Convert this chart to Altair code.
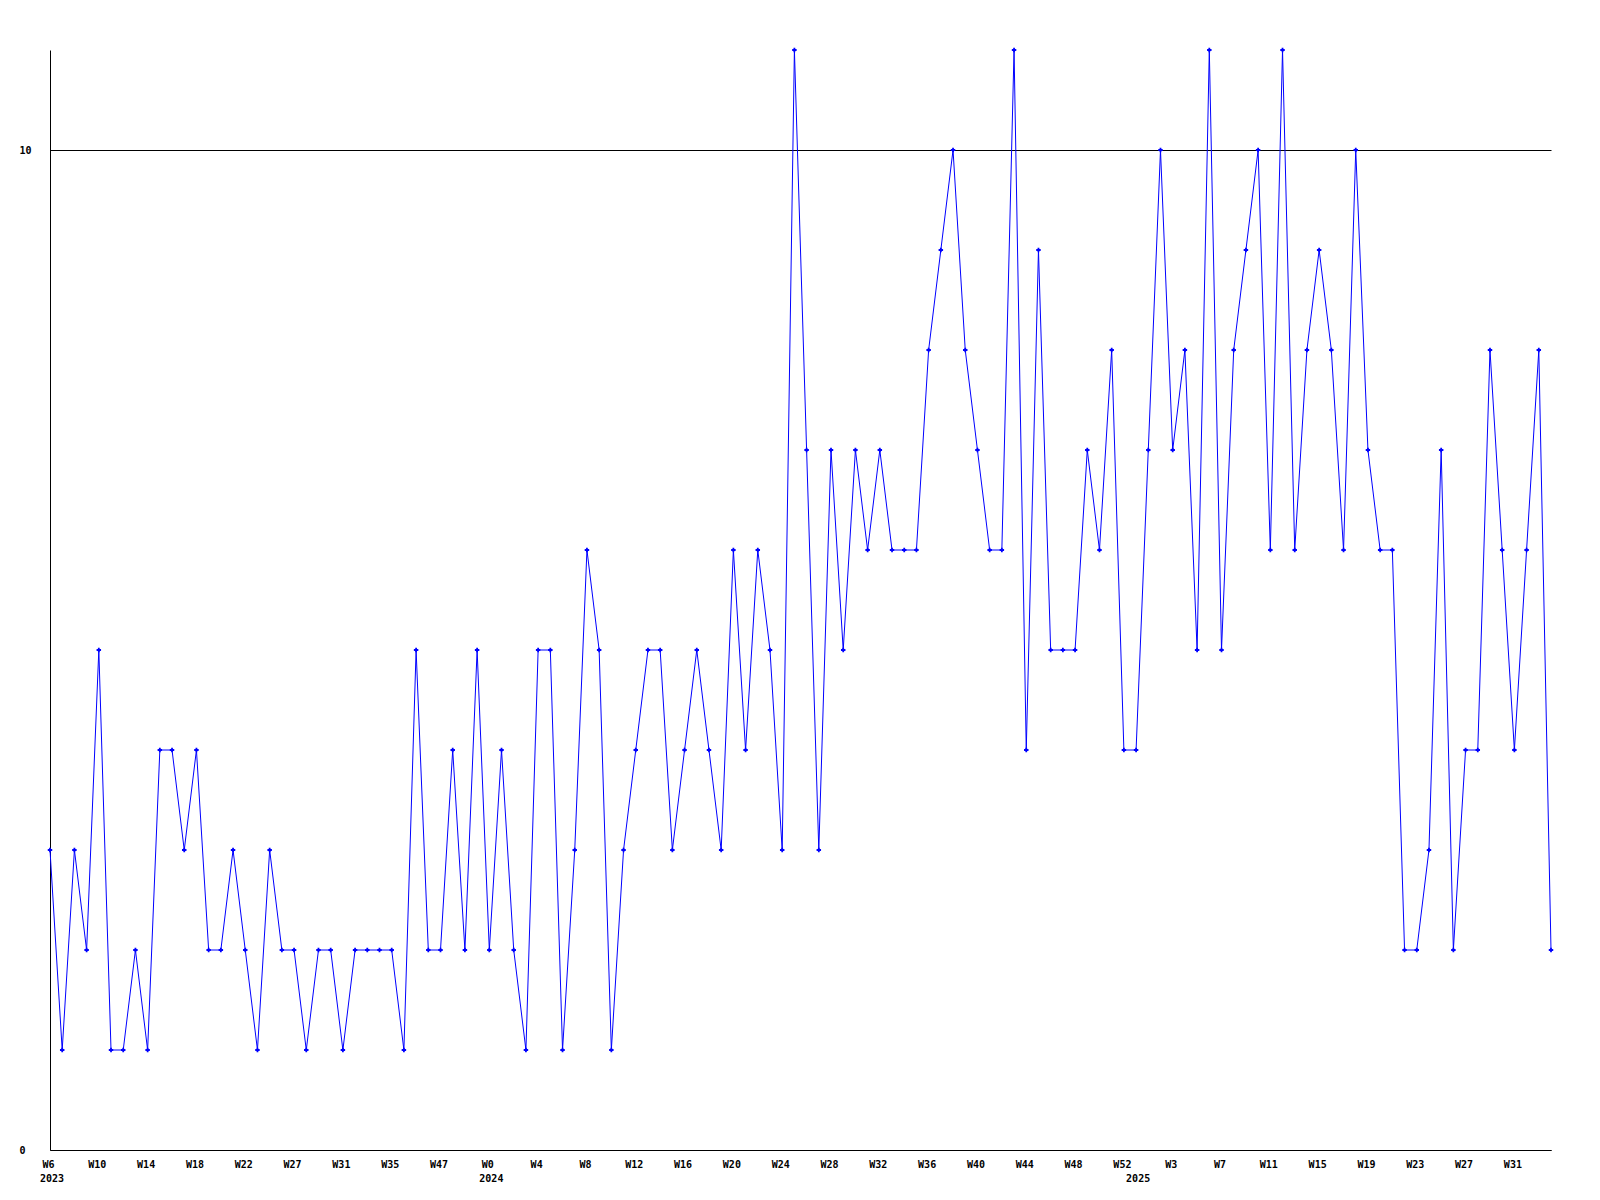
import json
import altair as alt
import pandas as pd

# Week categories (one per data point)
weeks_2023 = ["W%d" % w for w in range(6, 23)] + ["W23", "W24", "W26"] + \
             ["W%d" % w for w in range(27, 36)] + ["W36", "W37", "W46", "W47", "W48", "W49", "W51"]
weeks_2024 = ["W%d" % w for w in range(0, 53)]
weeks_2025 = ["W%d" % w for w in range(0, 35)]
weeks = weeks_2023 + weeks_2024 + weeks_2025

values = [
    3, 1, 3, 2, 5, 1, 1, 2, 1, 4, 4, 3, 4, 2, 2, 3, 2, 1, 3, 2, 2,
    1, 2, 2, 1, 2, 2, 2, 2, 1, 5, 2, 2, 4, 2, 5, 2, 4, 2, 1, 5, 5,
    1, 3, 6, 5, 1, 3, 4, 5, 5, 3, 4, 5, 4, 3, 6, 4, 6, 5, 3,
    11, 7, 3, 7, 5, 7, 6, 7, 6, 6, 6, 8, 9, 10, 8, 7, 6, 6, 11, 4, 9, 5,
    5, 5, 7, 6, 8, 4, 4, 7, 10, 7, 8, 5, 11, 5, 8, 9, 10, 6, 11, 6,
    8, 9, 8, 6, 10, 7, 6, 6, 2, 2, 3, 7, 2, 4, 4, 8, 6, 4, 6, 8, 2,
]

year_names = ["2023", "2024", "2025"]
year_start = [0, len(weeks_2023), len(weeks_2023) + len(weeks_2024)]

y_ticks = [0, 10]
x_ticks = list(range(0, 121, 4))

FONT = "DejaVu Sans Mono"
BLUE = "#0000ff"

df = pd.DataFrame({"i": list(range(len(values))), "week": weeks, "count": values})
ydf = pd.DataFrame({"i": year_start, "year": year_names})

n = len(values) - 1
xscale = alt.Scale(domain=[0, n], nice=False, zero=False)
yscale = alt.Scale(domain=[0, 11], nice=False)

label_expr = json.dumps(weeks) + "[datum.value]"

x_enc = alt.X(
    "i:Q", scale=xscale, title=None,
    axis=alt.Axis(values=x_ticks, labelExpr=label_expr, grid=False, ticks=False,
                  domainColor="black", domainWidth=1, labelFont=FONT, labelFontSize=10,
                  labelFontWeight="bold", labelColor="black", labelPadding=9,
                  labelAlign="center", labelBaseline="top", labelOffset=-2,
                  labelOverlap=False, labelFlush=False),
)
y_enc = alt.Y(
    "count:Q", scale=yscale, title=None,
    axis=alt.Axis(values=y_ticks, format="d", grid=True, gridColor="black", gridOpacity=1,
                  gridWidth=1, ticks=False, domainColor="black", domainWidth=1,
                  labelFont=FONT, labelFontSize=10, labelFontWeight="bold",
                  labelColor="black", labelAlign="left", labelPadding=31),
)

line = alt.Chart(df).mark_line(color=BLUE, strokeWidth=1).encode(x=x_enc, y=y_enc)
pts = alt.Chart(df).mark_point(shape="cross", filled=True, size=20, color=BLUE,
                               opacity=1).encode(x=alt.X("i:Q", scale=xscale),
                                                 y=alt.Y("count:Q", scale=yscale))
years = alt.Chart(ydf).mark_text(align="left", baseline="top", dx=-10, font=FONT,
                                 fontSize=10, fontWeight="bold", color="black").encode(
    x=alt.X("i:Q", scale=xscale), y=alt.value(1124), text="year:N")

chart = alt.layer(line, pts, years).properties(
    width=1501, height=1100,
    autosize=alt.AutoSizeParams(type="none"),
    padding={"left": 42, "top": 42, "right": 30, "bottom": 50},
    background="white",
).configure_view(stroke=None)

chart.save("out.html", embed_options={"renderer": "svg", "actions": False})
